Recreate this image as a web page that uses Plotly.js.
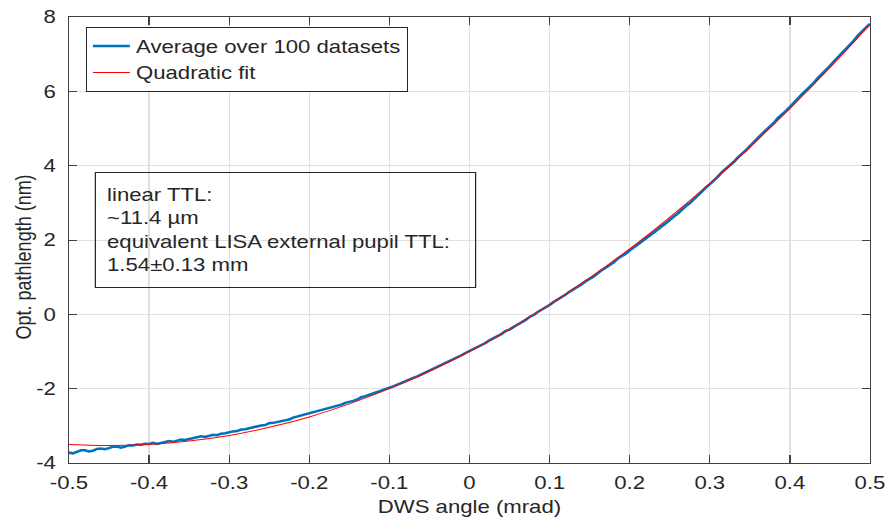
<!DOCTYPE html>
<html>
<head>
<meta charset="utf-8">
<script src="https://cdn.plot.ly/plotly-3.0.1.min.js"></script>
<style>
  html, body { margin: 0; padding: 0; background: #ffffff; overflow: hidden; }
  #wrap { width: 886px; height: 523px; overflow: hidden; }
  #chart { width: 726px; height: 523px; transform: scaleX(1.230556); transform-origin: 0 0; }
</style>
</head>
<body>
<div id="wrap"><div id="chart"></div></div>
<script>
// ---- data ----
const xAvg = [-0.500,-0.495,-0.490,-0.485,-0.480,-0.475,-0.470,-0.465,-0.460,-0.455,
  -0.450,-0.445,-0.440,-0.435,-0.430,-0.425,-0.420,-0.415,-0.410,-0.405,
  -0.400,-0.395,-0.390,-0.385,-0.380,-0.375,-0.370,-0.365,-0.360,-0.355,
  -0.350,-0.345,-0.340,-0.335,-0.330,-0.325,-0.320,-0.315,-0.310,-0.305,
  -0.300,-0.295,-0.290,-0.285,-0.280,-0.275,-0.270,-0.265,-0.260,-0.255,
  -0.250,-0.245,-0.240,-0.235,-0.230,-0.225,-0.220,-0.215,-0.210,-0.205,
  -0.200,-0.195,-0.190,-0.185,-0.180,-0.175,-0.170,-0.165,-0.160,-0.155,
  -0.150,-0.145,-0.140,-0.135,-0.130,-0.125,-0.120,-0.115,-0.110,-0.105,
  -0.100,-0.095,-0.090,-0.085,-0.080,-0.075,-0.070,-0.065,-0.060,-0.055,
  -0.050,-0.045,-0.040,-0.035,-0.030,-0.025,-0.020,-0.015,-0.010,-0.005,
  0.000,0.005,0.010,0.015,0.020,0.025,0.030,0.035,0.040,0.045,
  0.050,0.055,0.060,0.065,0.070,0.075,0.080,0.085,0.090,0.095,
  0.100,0.105,0.110,0.115,0.120,0.125,0.130,0.135,0.140,0.145,
  0.150,0.155,0.160,0.165,0.170,0.175,0.180,0.185,0.190,0.195,
  0.200,0.205,0.210,0.215,0.220,0.225,0.230,0.235,0.240,0.245,
  0.250,0.255,0.260,0.265,0.270,0.275,0.280,0.285,0.290,0.295,
  0.300,0.305,0.310,0.315,0.320,0.325,0.330,0.335,0.340,0.345,
  0.350,0.355,0.360,0.365,0.370,0.375,0.380,0.385,0.390,0.395,
  0.400,0.405,0.410,0.415,0.420,0.425,0.430,0.435,0.440,0.445,
  0.450,0.455,0.460,0.465,0.470,0.475,0.480,0.485,0.490,0.495,0.500];
const yAvg = [-3.72,-3.74,-3.70,-3.66,-3.66,-3.69,-3.67,-3.62,-3.61,-3.63,
  -3.60,-3.56,-3.56,-3.59,-3.56,-3.52,-3.53,-3.50,-3.51,-3.48,
  -3.49,-3.46,-3.49,-3.46,-3.44,-3.41,-3.43,-3.39,-3.37,-3.38,
  -3.35,-3.34,-3.31,-3.28,-3.30,-3.27,-3.24,-3.25,-3.21,-3.20,
  -3.17,-3.15,-3.14,-3.10,-3.09,-3.06,-3.05,-3.00,-2.99,-2.98,
  -2.93,-2.92,-2.90,-2.86,-2.84,-2.83,-2.78,-2.75,-2.73,-2.71,
  -2.68,-2.64,-2.62,-2.59,-2.56,-2.52,-2.49,-2.47,-2.43,-2.38,
  -2.36,-2.33,-2.29,-2.23,-2.20,-2.17,-2.12,-2.09,-2.05,-2.00,
  -1.97,-1.94,-1.89,-1.84,-1.81,-1.76,-1.71,-1.67,-1.62,-1.56,
  -1.52,-1.47,-1.42,-1.35,-1.31,-1.26,-1.20,-1.16,-1.10,-1.04,
  -0.99,-0.94,-0.88,-0.83,-0.77,-0.70,-0.65,-0.59,-0.53,-0.45,
  -0.41,-0.34,-0.28,-0.22,-0.15,-0.07,-0.02,0.06,0.12,0.18,
  0.25,0.33,0.39,0.45,0.53,0.61,0.67,0.73,0.81,0.89,
  0.95,1.02,1.10,1.19,1.25,1.32,1.40,1.50,1.56,1.63,
  1.72,1.81,1.88,1.96,2.05,2.12,2.20,2.30,2.37,2.45,
  2.55,2.63,2.71,2.82,2.91,2.99,3.10,3.19,3.29,3.41,
  3.50,3.59,3.70,3.82,3.91,3.99,4.10,4.22,4.31,4.41,
  4.52,4.64,4.73,4.85,4.95,5.04,5.15,5.28,5.37,5.47,
  5.58,5.70,5.79,5.92,6.02,6.12,6.23,6.36,6.46,6.56,
  6.68,6.80,6.90,7.03,7.14,7.24,7.37,7.50,7.60,7.70,7.82];

const xFit = [-0.50,-0.45,-0.40,-0.35,-0.30,-0.25,-0.20,-0.15,-0.10,-0.05,
  0.00,0.05,0.10,0.15,0.20,0.25,0.30,0.35,0.40,0.45,0.50];
const yFit = [-3.50,-3.53,-3.50,-3.41,-3.26,-3.04,-2.76,-2.41,-2.00,-1.53,
  -1.00,-0.40,0.26,0.98,1.76,2.61,3.52,4.50,5.54,6.64,7.80];

const xTickVals = [-0.5,-0.4,-0.3,-0.2,-0.1,0,0.1,0.2,0.3,0.4,0.5];
const xTickText = ['-0.5','-0.4','-0.3','-0.2','-0.1','0','0.1','0.2','0.3','0.4','0.5'];
const yTickVals = [-4,-2,0,2,4,6,8];
const yTickText = ['-4','-2','0','2','4','6','8'];

const seriesNames = ['Average over 100 datasets', 'Quadratic fit'];
const xTitle = 'DWS angle (mrad)';
const yTitle = 'Opt. pathlength (nm)';
const boxText = 'linear TTL:<br>~11.4 µm<br>equivalent LISA external pupil TTL:<br>1.54±0.13 mm';

// ---- chart ----
const FONT = 'Liberation Sans, Arial, Helvetica, sans-serif';
const INK = '#262626';

const traces = [
  { x: xAvg, y: yAvg, type: 'scatter', mode: 'lines', name: seriesNames[0],
    line: { color: '#0072BD', width: 2.5 } },
  { x: xFit, y: yFit, type: 'scatter', mode: 'lines', name: seriesNames[1],
    line: { color: '#ff0000', width: 1, shape: 'spline', smoothing: 0.6 } }
];

const axisCommon = {
  showline: true, mirror: 'ticks', linecolor: '#404040', linewidth: 1,
  ticks: 'inside', tickcolor: '#404040', tickwidth: 1,
  showgrid: true, gridcolor: '#e0e0e0', gridwidth: 1,
  zeroline: false, tickfont: { family: FONT, size: 18, color: INK },
  tickmode: 'array', fixedrange: true, ticklabeloverflow: 'allow'
};

const layout = {
  width: 726, height: 523,
  margin: { l: 56.1, r: 19.0, t: 17, b: 60 },
  paper_bgcolor: '#ffffff', plot_bgcolor: '#ffffff',
  font: { family: FONT, size: 18, color: INK },
  showlegend: true,
  legend: {
    x: 0.0208, y: 0.978, xanchor: 'left', yanchor: 'top',
    bgcolor: '#ffffff', bordercolor: INK, borderwidth: 1,
    font: { family: FONT, size: 18, color: INK }
  },
  xaxis: Object.assign({}, axisCommon, {
    range: [-0.5, 0.5], tickvals: xTickVals, ticktext: xTickText, ticklen: 8,
    ticklabelstandoff: 3,
    title: { text: xTitle, font: { family: FONT, size: 18, color: INK }, standoff: 8 }
  }),
  yaxis: Object.assign({}, axisCommon, {
    range: [-4, 8], tickvals: yTickVals, ticktext: yTickText, ticklen: 6.5,
    ticklabelstandoff: 6
  }),
  annotations: [
    {
      xref: 'paper', yref: 'paper', x: 0.0324, y: 0.652,
      xanchor: 'left', yanchor: 'top', align: 'left', valign: 'middle', showarrow: false,
      text: boxText, font: { family: FONT, size: 18, color: INK },
      width: 290, height: 96,
      bordercolor: INK, borderwidth: 1, borderpad: 9, bgcolor: 'rgba(0,0,0,0)'
    },
    {
      xref: 'paper', yref: 'paper', x: -0.0561, y: 0.462,
      xanchor: 'center', yanchor: 'middle', textangle: -90, showarrow: false,
      text: yTitle, font: { family: FONT, size: 18, color: INK }
    }
  ]
};

Plotly.newPlot('chart', traces, layout, { displayModeBar: false, staticPlot: true });
</script>
</body>
</html>
